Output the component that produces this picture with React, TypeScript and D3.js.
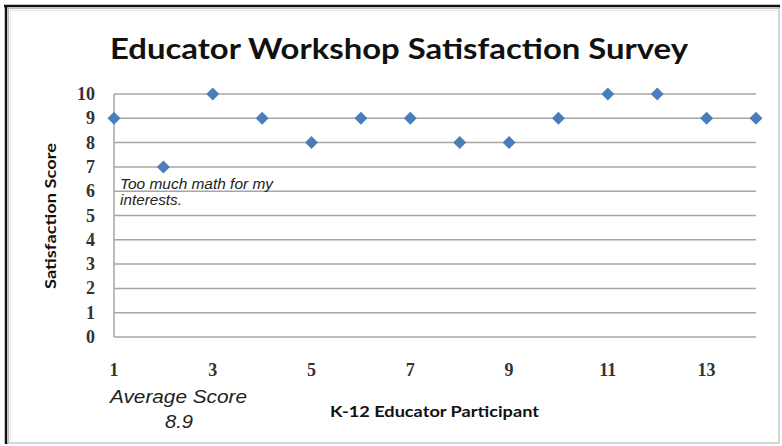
import React from "react";
import * as d3 from "d3";

const participants = [1, 2, 3, 4, 5, 6, 7, 8, 9, 10, 11, 12, 13, 14];
const scores = [9, 7, 10, 9, 8, 9, 9, 8, 8, 9, 10, 10, 9, 9];
const xTickValues = [1, 3, 5, 7, 9, 11, 13];
const yTickValues = [0, 1, 2, 3, 4, 5, 6, 7, 8, 9, 10];
const titleText = "Educator Workshop Satisfaction Survey";
const xAxisTitle = "K-12 Educator Participant";
const yAxisTitle = "Satisfaction Score";
const annotationLines = ["Too much math for my", "interests."];
const averageLabel = "Average Score";

const W = 782;
const H = 446;

export default function App() {
  const x = d3.scaleLinear().domain([1, 14]).range([114, 756]);
  const y = d3.scaleLinear().domain([0, 10]).range([337, 94]);
  const avg = d3.mean(scores) as number;
  const diamond = d3.symbol().type(d3.symbolSquare).size(84)();
  const sans = "Lato, 'Open Sans', sans-serif";
  const serif = "'Liberation Serif', 'DejaVu Serif', serif";
  const arial = "'Liberation Sans', Arial, sans-serif";
  const annLengths = [153, 62];
  return (
    <svg
      width={W}
      height={H}
      style={{ position: "absolute", left: 0, top: 0, background: "#fff" }}
    >
      <rect x={0} y={0} width={W} height={H} fill="#fff" />
      {/* frame */}
      <rect x={6} y={6} width={773} height={437} fill="none" stroke="#c8c8c8" strokeWidth={1.5} />
      <line x1={8} y1={8.5} x2={779} y2={8.5} stroke="#bbb" strokeWidth={1} />
      <line x1={8.5} y1={8} x2={8.5} y2={443} stroke="#bbb" strokeWidth={1} />
      <line x1={10} y1={10.5} x2={779} y2={10.5} stroke="#e6e6e6" strokeWidth={1} />
      <line x1={10.5} y1={10} x2={10.5} y2={443} stroke="#e6e6e6" strokeWidth={1} />
      <line x1={4} y1={6} x2={780} y2={6} stroke="#111" strokeWidth={2.5} />
      <line x1={6} y1={5} x2={6} y2={444} stroke="#111" strokeWidth={2.5} />

      {/* title */}
      <text
        x={399}
        y={59}
        textAnchor="middle"
        fontFamily={sans}
        fontWeight="bold"
        fontSize={29}
        fill="#111"
        textLength={578}
        lengthAdjust="spacingAndGlyphs"
      >
        {titleText}
      </text>

      {/* gridlines */}
      {yTickValues.map((v) => (
        <line
          key={"g" + v}
          x1={x(1)}
          x2={x(14)}
          y1={y(v)}
          y2={y(v)}
          stroke="#a6a6a6"
          strokeWidth={1.5}
        />
      ))}
      <line x1={x(1)} x2={x(1)} y1={y(10)} y2={y(0)} stroke="#a6a6a6" strokeWidth={1.5} />

      {/* y tick labels */}
      {yTickValues.map((v) => (
        <text
          key={"yt" + v}
          x={95}
          y={y(v) + 6}
          textAnchor="end"
          fontFamily={serif}
          fontWeight="bold"
          fontSize={18}
          fill="#333"
        >
          {v}
        </text>
      ))}

      {/* x tick labels */}
      {xTickValues.map((v) => (
        <text
          key={"xt" + v}
          x={x(v)}
          y={376}
          textAnchor="middle"
          fontFamily={serif}
          fontWeight="bold"
          fontSize={18}
          fill="#333"
        >
          {v}
        </text>
      ))}

      {/* axis titles */}
      <text
        transform={`translate(56,${(143 + 289) / 2}) rotate(-90)`}
        textAnchor="middle"
        fontFamily={sans}
        fontWeight="bold"
        fontSize={16}
        fill="#111"
        textLength={146}
        lengthAdjust="spacingAndGlyphs"
      >
        {yAxisTitle}
      </text>
      <text
        x={434.5}
        y={417}
        textAnchor="middle"
        fontFamily={sans}
        fontWeight="bold"
        fontSize={16}
        fill="#111"
        textLength={209}
        lengthAdjust="spacingAndGlyphs"
      >
        {xAxisTitle}
      </text>

      {/* annotation */}
      {annotationLines.map((t, i) => (
        <text
          key={"an" + i}
          x={120}
          y={189 + i * 16}
          fontFamily={arial}
          fontStyle="italic"
          fontSize={14}
          fill="#222"
          textLength={annLengths[i]}
          lengthAdjust="spacingAndGlyphs"
        >
          {t}
        </text>
      ))}

      {/* average */}
      <text
        x={178.5}
        y={403}
        textAnchor="middle"
        fontFamily={arial}
        fontStyle="italic"
        fontSize={18.5}
        fill="#222"
        textLength={137}
        lengthAdjust="spacingAndGlyphs"
      >
        {averageLabel}
      </text>
      <text
        x={179}
        y={428}
        textAnchor="middle"
        fontFamily={arial}
        fontStyle="italic"
        fontSize={18.5}
        fill="#222"
        textLength={28}
        lengthAdjust="spacingAndGlyphs"
      >
        {d3.format(".1f")(avg)}
      </text>

      {/* markers */}
      {participants.map((p, i) => (
        <path
          key={"m" + p}
          d={diamond as string}
          transform={`translate(${x(p)},${y(scores[i])}) rotate(45)`}
          fill="#4a7ebb"
        />
      ))}
    </svg>
  );
}
